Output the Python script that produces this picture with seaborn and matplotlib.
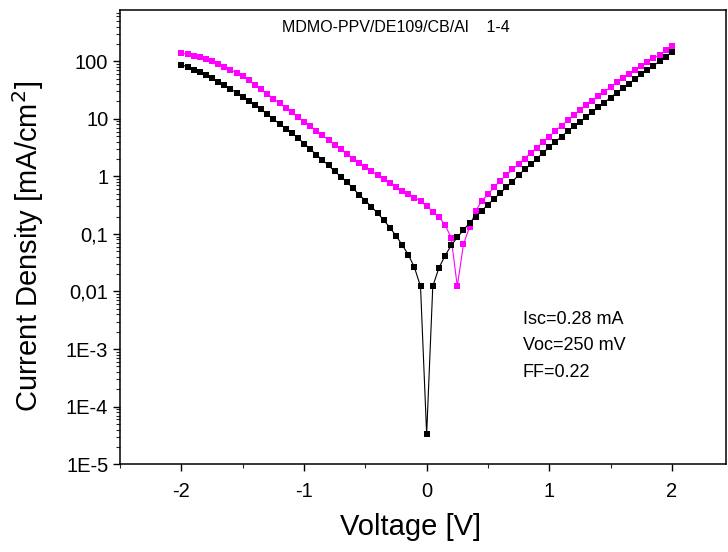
import numpy as np
import pandas as pd
import seaborn as sns
import matplotlib
matplotlib.use("Agg")
import matplotlib.pyplot as plt
from matplotlib.ticker import LogLocator, NullFormatter, MultipleLocator

# voltage sweep [V]
voltage = [-2.0, -1.95, -1.9, -1.85, -1.8, -1.75, -1.7, -1.65, -1.6, -1.55,
           -1.5, -1.45, -1.4, -1.35, -1.3, -1.25, -1.2, -1.15, -1.1, -1.05,
           -1.0, -0.95, -0.9, -0.85, -0.8, -0.75, -0.7, -0.65, -0.6, -0.55,
           -0.5, -0.45, -0.4, -0.35, -0.3, -0.25, -0.2, -0.15, -0.1, -0.05,
           0.0, 0.05, 0.1, 0.15, 0.2, 0.25, 0.3, 0.35, 0.4, 0.45,
           0.5, 0.55, 0.6, 0.65, 0.7, 0.75, 0.8, 0.85, 0.9, 0.95,
           1.0, 1.05, 1.1, 1.15, 1.2, 1.25, 1.3, 1.35, 1.4, 1.45,
           1.5, 1.55, 1.6, 1.65, 1.7, 1.75, 1.8, 1.85, 1.9, 1.95, 2.0]

# dark curve [mA/cm^2]
j_dark = [87.1, 79.4, 71.3, 63.8, 56.8, 50.1, 44.0, 38.3, 33.1, 28.4,
          24.3, 20.6, 17.3, 14.5, 12.0, 9.89, 8.13, 6.76, 5.62, 4.65,
          3.71, 2.99, 2.38, 1.92, 1.55, 1.22, 0.989, 0.794, 0.617, 0.479,
          0.380, 0.295, 0.229, 0.174, 0.129, 0.0933, 0.0646, 0.0437, 0.0263, 0.0123,
          3.3e-5, 0.0123, 0.0257, 0.0417, 0.0631, 0.0871, 0.117, 0.155, 0.200, 0.251,
          0.324, 0.407, 0.513, 0.646, 0.813, 1.05, 1.32, 1.62, 2.04, 2.57,
          3.24, 3.98, 4.90, 6.03, 7.41, 8.91, 10.7, 13.2, 15.8, 19.1,
          23.4, 28.2, 33.9, 40.7, 49.0, 58.9, 70.8, 83.2, 100.0, 120.0, 145.0]

# illuminated curve [mA/cm^2]
j_light = [138.0, 132.0, 124.0, 116.0, 108.0, 100.0, 90.2, 80.4, 70.8, 62.4,
           55.0, 46.8, 38.9, 32.4, 26.9, 22.4, 18.6, 15.5, 12.9, 10.7,
           8.91, 7.41, 6.17, 5.13, 4.27, 3.55, 2.95, 2.43, 2.02, 1.70,
           1.44, 1.22, 1.05, 0.897, 0.764, 0.661, 0.562, 0.490, 0.427, 0.372,
           0.302, 0.245, 0.195, 0.145, 0.0851, 0.0123, 0.0661, 0.132, 0.251, 0.372,
           0.490, 0.646, 0.841, 1.05, 1.32, 1.62, 2.04, 2.57, 3.16, 3.98,
           4.90, 6.17, 7.59, 9.33, 11.5, 14.1, 17.0, 20.4, 24.5, 29.5,
           35.5, 42.7, 50.1, 58.9, 69.2, 81.3, 95.5, 112.0, 129.0, 155.0, 186.0]

ytick_vals = [1e-5, 1e-4, 1e-3, 0.01, 0.1, 1, 10, 100]
ytick_labels = ["1E-5", "1E-4", "1E-3", "0,01", "0,1", "1", "10", "100"]
xtick_vals = [-2, -1, 0, 1, 2]

df = pd.DataFrame({"Voltage": voltage, "dark": j_dark, "light": j_light})

sns.set_style("ticks")
plt.rcParams["font.family"] = ["Liberation Sans", "DejaVu Sans"]
plt.rcParams["text.color"] = "black"
plt.rcParams["axes.labelcolor"] = "black"

fig = plt.figure(figsize=(7.28, 5.52), dpi=100)
ax = fig.add_axes([0.165, 0.159, 0.832, 0.823])

# light curve first, dark curve drawn on top
sns.lineplot(data=df, x="Voltage", y="light", ax=ax, color="#ff00ff",
             marker="s", markersize=5.0, markeredgewidth=0, linewidth=0.8,
             estimator=None, sort=False)
sns.lineplot(data=df, x="Voltage", y="dark", ax=ax, color="black",
             marker="s", markersize=5.0, markeredgewidth=0, linewidth=0.8,
             estimator=None, sort=False)

ax.set_yscale("log")
ax.set_ylim(1e-5, 10 ** 2.89)
ax.set_xlim(-2.5, 2.44)

ax.set_yticks(ytick_vals)
ax.set_yticklabels(ytick_labels)
ax.yaxis.set_minor_locator(LogLocator(base=10, subs=np.arange(2, 10), numticks=20))
ax.yaxis.set_minor_formatter(NullFormatter())
ax.set_xticks(xtick_vals)
ax.set_xticklabels([str(v) for v in xtick_vals])
ax.xaxis.set_minor_locator(MultipleLocator(0.5))

ax.tick_params(axis="both", which="major", direction="out", length=5, width=1,
               labelsize=14.5, colors="black")
ax.tick_params(axis="both", which="minor", direction="out", length=3, width=0.8)
ax.tick_params(axis="x", pad=8)

for side in ["top", "right", "left", "bottom"]:
    ax.spines[side].set_visible(True)
    ax.spines[side].set_linewidth(1.1)
    ax.spines[side].set_color("black")

ax.set_xlabel("Voltage [V]", fontsize=21)
ax.set_ylabel("Current Density [mA/cm$^2$]", fontsize=21)
ax.xaxis.set_label_coords(0.48, -0.108)
ax.yaxis.set_label_coords(-0.122, 0.48)

ax.text(0.455, 0.962, "MDMO-PPV/DE109/CB/Al    1-4", transform=ax.transAxes,
        ha="center", va="center", fontsize=11.5)
ax.text(0.665, 0.338, "Isc=0.28 mA\nVoc=250 mV\nFF=0.22", transform=ax.transAxes,
        ha="left", va="top", fontsize=13, linespacing=1.75)

fig.savefig("out.png", dpi=100)
